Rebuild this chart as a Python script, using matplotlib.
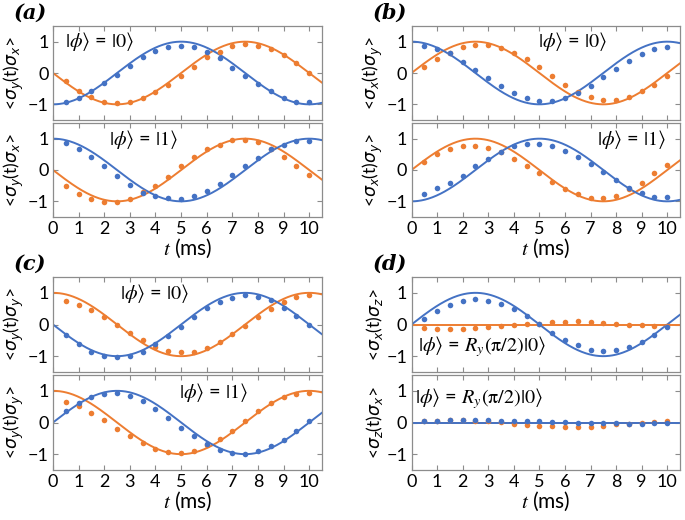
import numpy as np
import matplotlib
matplotlib.use("Agg")
import matplotlib.pyplot as plt

plt.rcParams["font.family"] = ["Lato", "DejaVu Sans"]
plt.rcParams["mathtext.fontset"] = "dejavusans"

# Sampling times (ms)
t_ms = [0.5, 1.0, 1.5, 2.0, 2.5, 3.0, 3.5, 4.0, 4.5, 5.0,
        5.5, 6.0, 6.5, 7.0, 7.5, 8.0, 8.5, 9.0, 9.5, 10.0]
period_ms = 10.0

# Measured points (blue / orange) for every panel, top and bottom
a_top_blue = [-0.91, -0.79, -0.58, -0.33, -0.05, 0.23, 0.50, 0.70, 0.83, 0.87,
              0.83, 0.66, 0.48, 0.17, -0.09, -0.36, -0.59, -0.80, -0.91, -0.92]
a_top_orange = [-0.26, -0.57, -0.75, -0.93, -0.96, -0.93, -0.81, -0.62, -0.39, -0.09,
                0.20, 0.50, 0.68, 0.86, 0.91, 0.86, 0.75, 0.58, 0.32, -0.01]
a_bot_blue = [0.87, 0.67, 0.42, 0.14, -0.20, -0.48, -0.72, -0.84, -0.90, -0.92,
              -0.84, -0.66, -0.45, -0.17, 0.13, 0.38, 0.66, 0.81, 0.91, 0.93]
a_bot_orange = [-0.50, -0.76, -0.93, -1.02, -1.02, -0.93, -0.71, -0.51, -0.21, 0.12,
                0.41, 0.67, 0.81, 0.95, 0.97, 0.89, 0.67, 0.42, 0.13, -0.17]

b_top_blue = [0.87, 0.78, 0.63, 0.35, 0.10, -0.17, -0.42, -0.65, -0.81, -0.88,
              -0.88, -0.80, -0.63, -0.40, -0.14, 0.13, 0.38, 0.61, 0.76, 0.84]
b_top_orange = [0.19, 0.44, 0.63, 0.83, 0.88, 0.88, 0.80, 0.65, 0.44, 0.18,
                -0.10, -0.38, -0.62, -0.78, -0.86, -0.86, -0.77, -0.58, -0.37, -0.11]
b_bot_blue = [-0.76, -0.59, -0.41, -0.18, 0.12, 0.36, 0.57, 0.76, 0.83, 0.83,
              0.76, 0.62, 0.41, 0.19, -0.07, -0.32, -0.57, -0.73, -0.85, -0.86]
b_bot_orange = [0.27, 0.51, 0.68, 0.77, 0.78, 0.71, 0.57, 0.36, 0.13, -0.11,
                -0.38, -0.61, -0.78, -0.90, -0.90, -0.82, -0.60, -0.40, -0.11, 0.16]

c_top_blue = [-0.34, -0.61, -0.86, -1.00, -1.04, -0.99, -0.86, -0.63, -0.36, -0.07,
              0.23, 0.53, 0.72, 0.85, 0.92, 0.87, 0.77, 0.53, 0.27, -0.03]
c_top_orange = [0.75, 0.62, 0.45, 0.25, -0.02, -0.26, -0.50, -0.72, -0.83, -0.88,
                -0.86, -0.74, -0.55, -0.31, -0.04, 0.25, 0.49, 0.71, 0.86, 0.92]
c_bot_blue = [0.35, 0.62, 0.80, 0.90, 0.92, 0.83, 0.68, 0.43, 0.14, -0.16,
              -0.44, -0.67, -0.87, -0.97, -0.99, -0.91, -0.75, -0.54, -0.26, 0.05]
c_bot_orange = [0.66, 0.52, 0.31, 0.07, -0.19, -0.44, -0.65, -0.83, -0.94, -0.96,
                -0.91, -0.72, -0.53, -0.27, 0.05, 0.36, 0.61, 0.82, 0.90, 0.93]

d_top_blue = [0.17, 0.42, 0.61, 0.73, 0.79, 0.75, 0.65, 0.48, 0.26, 0.01,
              -0.27, -0.49, -0.66, -0.80, -0.85, -0.81, -0.72, -0.56, -0.33, -0.08]
d_top_orange = [-0.11, -0.13, -0.13, -0.13, -0.12, -0.09, -0.05, -0.01, 0.01, 0.03,
                0.07, 0.09, 0.10, 0.09, 0.05, 0.03, 0.00, -0.03, -0.06, -0.06]
d_bot_blue = [0.05, 0.06, 0.07, 0.07, 0.07, 0.07, 0.06, 0.06, 0.05, 0.04,
              0.03, 0.02, 0.00, -0.02, -0.03, -0.03, -0.04, -0.04, -0.02, -0.01]
d_bot_orange = [0.05, 0.06, 0.07, 0.07, 0.06, 0.05, 0.03, -0.05, -0.08, -0.10,
                -0.12, -0.13, -0.15, -0.14, -0.11, -0.06, -0.04, -0.02, 0.03, 0.04]

# Theory curves: y = c*cos(wt) + s*sin(wt), as (c, s) for (blue, orange)
a_top_fit = [(-1, 0), (0, -1)]
a_bot_fit = [(1, 0), (0, -1)]
b_top_fit = [(1, 0), (0, 1)]
b_bot_fit = [(-1, 0), (0, 1)]
c_top_fit = [(0, -1), (1, 0)]
c_bot_fit = [(0, 1), (1, 0)]
d_top_fit = [(0, 1), (0, 0)]
d_bot_fit = [(0, 0), (0, 0)]

ylabels = {
    "a": (r"<$\sigma_y$(t)$\sigma_x$>", r"<$\sigma_y$(t)$\sigma_x$>"),
    "b": (r"<$\sigma_x$(t)$\sigma_y$>", r"<$\sigma_x$(t)$\sigma_y$>"),
    "c": (r"<$\sigma_y$(t)$\sigma_y$>", r"<$\sigma_y$(t)$\sigma_y$>"),
    "d": (r"<$\sigma_x$(t)$\sigma_z$>", r"<$\sigma_z$(t)$\sigma_x$>"),
}
state_text = {
    "a": (r"$|\phi\rangle$ = $|0\rangle$", r"$|\phi\rangle$ = $|1\rangle$"),
    "b": (r"$|\phi\rangle$ = $|0\rangle$", r"$|\phi\rangle$ = $|1\rangle$"),
    "c": (r"$|\phi\rangle$ = $|0\rangle$", r"$|\phi\rangle$ = $|1\rangle$"),
    "d": (r"$|\phi\rangle$ = $R_y(\mathrm{\pi}/2)|0\rangle$",
          r"$|\phi\rangle$ = $R_y(\mathrm{\pi}/2)|0\rangle$"),
}
state_pos = {
    "a": ((0.45, 1.0), (2.2, 0.97)),
    "b": ((4.95, 0.99), (7.25, 0.96)),
    "c": ((2.6, 0.97), (4.9, 0.95)),
    "d": ((0.25, -0.70), (0.12, 0.77)),
}

BLUE = "#4472C4"
ORANGE = "#ED7D31"
FRAME = "#8c8c8c"

W, H = 685, 520
fig = plt.figure(figsize=(W / 100, H / 100), dpi=100)


def px_axes(x0, x1, y0, y1):
    return fig.add_axes([x0 / W, 1 - y1 / H, (x1 - x0) / W, (y1 - y0) / H])


t_fine = np.linspace(0, 10.5, 400)
w = 2 * np.pi / period_ms

panels = {
    "a": (53, 322, 26, 217, a_top_blue, a_top_orange, a_bot_blue, a_bot_orange, a_top_fit, a_bot_fit),
    "b": (411.5, 680, 26, 217, b_top_blue, b_top_orange, b_bot_blue, b_bot_orange, b_top_fit, b_bot_fit),
    "c": (53, 322, 277, 470, c_top_blue, c_top_orange, c_bot_blue, c_bot_orange, c_top_fit, c_bot_fit),
    "d": (411.5, 680, 277, 470, d_top_blue, d_top_orange, d_bot_blue, d_bot_orange, d_top_fit, d_bot_fit),
}

for key, (x0, x1, y0, y1, tb, to, bb, bo, tfit, bfit) in panels.items():
    mid = (y0 + y1) / 2
    ax_top = px_axes(x0, x1, y0, mid - 1.5)
    ax_bot = px_axes(x0, x1, mid + 1.5, y1)
    for i, (ax, blue, orange, fit) in enumerate([(ax_top, tb, to, tfit), (ax_bot, bb, bo, bfit)]):
        (cb, sb), (co, so) = fit
        ax.plot(t_fine, co * np.cos(w * t_fine) + so * np.sin(w * t_fine), color=ORANGE, lw=1.4)
        ax.plot(t_fine, cb * np.cos(w * t_fine) + sb * np.sin(w * t_fine), color=BLUE, lw=1.4)
        ax.plot(t_ms, orange, "o", color=ORANGE, ms=4, mec="none")
        ax.plot(t_ms, blue, "o", color=BLUE, ms=4, mec="none")
        ax.set_xlim(0, 10.5)
        ax.set_ylim(-1.5, 1.5)
        ax.set_xticks(range(0, 11))
        ax.set_yticks([-1, 0, 1])
        ax.tick_params(direction="in", top=True, right=True, length=3.5, width=0.8,
                       color=FRAME, labelsize=13, pad=3)
        for sp in ax.spines.values():
            sp.set_color(FRAME)
            sp.set_linewidth(0.9)
        ax.set_ylabel(ylabels[key][i], fontsize=12.5)
        # right edge of the rotated label sits left of the "-1" tick label
        ax.yaxis.set_label_coords(-27 / (x1 - x0), 0.5)
        tx, ty = state_pos[key][i]
        ax.text(tx, ty, state_text[key][i], fontsize=14.5, ha="left", va="center",
                math_fontfamily="stix")
        if i == 0:
            ax.tick_params(labelbottom=False)
        else:
            ax.set_xlabel(r"$t$ (ms)", fontsize=15, labelpad=0, math_fontfamily="stix")
    fig.text((x0 - 39) / W, 1 - (y0 - 13) / H, "(" + key + ")", fontsize=15,
             family="DejaVu Serif", weight="bold", style="italic", ha="left", va="center")

fig.savefig("out.png", dpi=100)
